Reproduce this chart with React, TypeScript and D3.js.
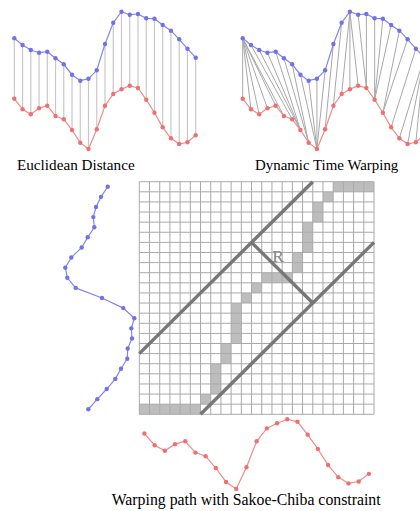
import React from "react";
import * as d3 from "d3";

// Series A (blue) and series B (red), 23 samples each
const blueValues = [61.7, 55, 50, 47.3, 48.3, 41.7, 35.7, 25.3, 19.3, 21.3, 29.7, 56, 77.3, 88.3, 85.3, 86, 81.7, 81.3, 75, 69.3, 60.7, 51.3, 42.3];
const redValues = [61.3, 50.7, 45.7, 51.7, 54.3, 44, 40.7, 30, 17.3, 11, 30.7, 54.3, 66, 70.7, 74.3, 72, 60.3, 47.3, 32.7, 21.7, 16, 17.7, 24.7];

// Warping path cells: [blueIndex(row from bottom), redIndex(col)]
const warpPath: [number, number][] = [
  [0, 0], [0, 1], [0, 2], [0, 3], [0, 4], [0, 5],
  [1, 6],
  [2, 7], [3, 7], [4, 7],
  [5, 8], [6, 8],
  [7, 9], [8, 9], [9, 9], [10, 9],
  [11, 10],
  [12, 11],
  [13, 12], [13, 13], [13, 14],
  [14, 15], [15, 15],
  [16, 16], [17, 16], [18, 16],
  [19, 17], [20, 17],
  [21, 18],
  [22, 19], [22, 20], [22, 21], [22, 22],
];

const gridSize = 23;
const bandR = 6;
const rMarker: [number, number][] = [[11, 17], [17, 11]];
const rLabelPos: [number, number] = [13.6, 15.7];

const labels = {
  euclid: "Euclidean Distance",
  dtw: "Dynamic Time Warping",
  sakoe: "Warping path with Sakoe-Chiba constraint",
};

const BLUE_LINE = "#8585f0";
const BLUE_PT = "#7171ee";
const RED_LINE = "#f08a8a";
const RED_PT = "#ee7070";

export default function App() {
  const idx = d3.range(blueValues.length);
  // top panels
  const xEuc = d3.scaleLinear().domain([0, 22]).range([14.3, 195.7]);
  const xDtw = d3.scaleLinear().domain([0, 22]).range([242.7, 424.1]);
  const yBlueTop = d3.scaleLinear().domain([0, 100]).range([100, 0]);
  const yRedTop = d3.scaleLinear().domain([0, 100]).range([160, 60]);

  // grid
  const gx = d3.scaleLinear().domain([0, gridSize]).range([139.3, 374]);
  const gy = d3.scaleLinear().domain([0, gridSize]).range([414.3, 181.7]);

  // left (blue, vertical) and bottom (red) series
  const xLeft = d3.scaleLinear().domain([0, 100]).range([46, 146]);
  const yLeftIdx = (i: number) => gy(gridSize - i - 0.5);
  const yBottom = d3.scaleLinear().domain([0, 100]).range([501, 391]);
  const xBottomIdx = (j: number) => gx(j + 0.5);

  const lineTop = (xs: d3.ScaleLinear<number, number>, ys: d3.ScaleLinear<number, number>, vals: number[]) =>
    d3.line<number>().x((_, i) => xs(i)).y((v) => ys(v))(vals) || "";

  const leftLine = d3.line<number>().x((v) => xLeft(v)).y((_, i) => yLeftIdx(i))(blueValues) || "";
  const bottomLine = d3.line<number>().x((_, j) => xBottomIdx(j)).y((v) => yBottom(v))(redValues) || "";

  const ticks = d3.range(gridSize + 1);
  const serif = "'Liberation Serif', 'Times New Roman', serif";

  return (
    <svg width={420} height={511} style={{ position: "absolute", left: 0, top: 0, background: "#fff" }}>
      {/* Euclidean panel */}
      <g>
        {idx.map((i) => (
          <line key={i} x1={xEuc(i)} x2={xEuc(i)} y1={yBlueTop(blueValues[i])} y2={yRedTop(redValues[i])} stroke="#c8c8c8" strokeWidth={1.2} />
        ))}
        <path d={lineTop(xEuc, yBlueTop, blueValues)} fill="none" stroke={BLUE_LINE} strokeWidth={1.2} />
        <path d={lineTop(xEuc, yRedTop, redValues)} fill="none" stroke={RED_LINE} strokeWidth={1.2} />
        {idx.map((i) => (
          <circle key={"b" + i} cx={xEuc(i)} cy={yBlueTop(blueValues[i])} r={2.2} fill={BLUE_PT} />
        ))}
        {idx.map((i) => (
          <circle key={"r" + i} cx={xEuc(i)} cy={yRedTop(redValues[i])} r={2.2} fill={RED_PT} />
        ))}
        <text x={17} y={170} fontFamily={serif} fontSize={15.2} fill="#000">{labels.euclid}</text>
      </g>

      {/* DTW panel */}
      <g>
        {warpPath.map(([i, j], k) => (
          <line key={k} x1={xDtw(i)} y1={yBlueTop(blueValues[i])} x2={xDtw(j)} y2={yRedTop(redValues[j])} stroke="#a8a8a8" strokeWidth={1} />
        ))}
        <path d={lineTop(xDtw, yBlueTop, blueValues)} fill="none" stroke={BLUE_LINE} strokeWidth={1.2} />
        <path d={lineTop(xDtw, yRedTop, redValues)} fill="none" stroke={RED_LINE} strokeWidth={1.2} />
        {idx.map((i) => (
          <circle key={"b" + i} cx={xDtw(i)} cy={yBlueTop(blueValues[i])} r={2.2} fill={BLUE_PT} />
        ))}
        {idx.map((i) => (
          <circle key={"r" + i} cx={xDtw(i)} cy={yRedTop(redValues[i])} r={2.2} fill={RED_PT} />
        ))}
        <text x={255} y={170} fontFamily={serif} fontSize={14.9} fill="#000">{labels.dtw}</text>
      </g>

      {/* Grid */}
      <g>
        {warpPath.map(([i, j], k) => (
          <rect key={k} x={gx(j)} y={gy(i + 1)} width={gx(j + 1) - gx(j)} height={gy(i) - gy(i + 1)} fill="#bdbdbd" />
        ))}
        {ticks.map((t) => (
          <line key={"v" + t} x1={gx(t)} x2={gx(t)} y1={gy(0)} y2={gy(gridSize)} stroke="#a9a9a9" strokeWidth={1} />
        ))}
        {ticks.map((t) => (
          <line key={"h" + t} x1={gx(0)} x2={gx(gridSize)} y1={gy(t)} y2={gy(t)} stroke="#a9a9a9" strokeWidth={1} />
        ))}
        <line x1={gx(0)} y1={gy(bandR)} x2={gx(gridSize - bandR)} y2={gy(gridSize)} stroke="#777" strokeWidth={3.4} />
        <line x1={gx(bandR)} y1={gy(0)} x2={gx(gridSize)} y2={gy(gridSize - bandR)} stroke="#777" strokeWidth={3.4} />
        <line x1={gx(rMarker[0][0])} y1={gy(rMarker[0][1])} x2={gx(rMarker[1][0])} y2={gy(rMarker[1][1])} stroke="#777" strokeWidth={3.4} />
        <text x={gx(rLabelPos[0])} y={gy(rLabelPos[1]) + 6} textAnchor="middle" fontFamily={serif} fontSize={17.5} fill="#858585">R</text>
      </g>

      {/* Left series (blue, vertical) */}
      <g>
        <path d={leftLine} fill="none" stroke={BLUE_LINE} strokeWidth={1.2} />
        {blueValues.map((v, i) => (
          <circle key={i} cx={xLeft(v)} cy={yLeftIdx(i)} r={2.2} fill={BLUE_PT} />
        ))}
      </g>

      {/* Bottom series (red) */}
      <g>
        <path d={bottomLine} fill="none" stroke={RED_LINE} strokeWidth={1.2} />
        {redValues.map((v, j) => (
          <circle key={j} cx={xBottomIdx(j)} cy={yBottom(v)} r={2.2} fill={RED_PT} />
        ))}
        <text x={111.7} y={505} fontFamily={serif} fontSize={15.8} fill="#000">{labels.sakoe}</text>
      </g>
    </svg>
  );
}
